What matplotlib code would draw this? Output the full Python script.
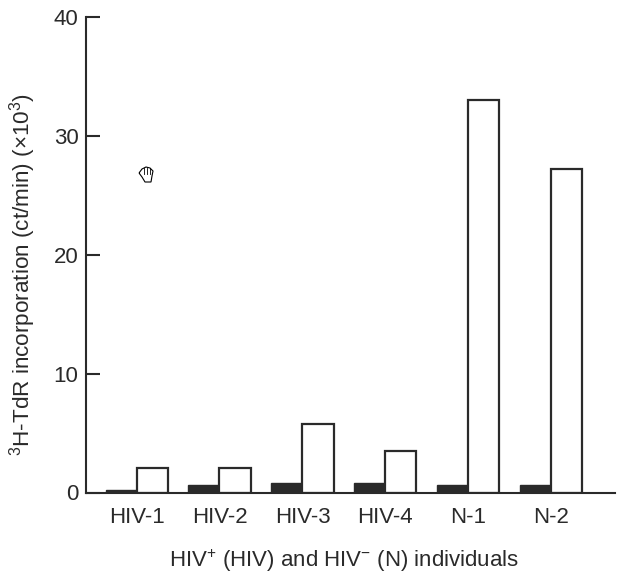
import matplotlib
matplotlib.use("Agg")
import matplotlib.pyplot as plt
import numpy as np
from matplotlib.path import Path
from matplotlib.patches import PathPatch

plt.rcParams['font.family'] = ['Liberation Sans', 'DejaVu Sans']
plt.rcParams['mathtext.fontset'] = 'custom'
plt.rcParams['mathtext.rm'] = 'Liberation Sans'
plt.rcParams['mathtext.default'] = 'rm'

# --- Datos ---
individuals = ['HIV-1', 'HIV-2', 'HIV-3', 'HIV-4', 'N-1', 'N-2']
black_values = [0.2, 0.6, 0.8, 0.8, 0.6, 0.6]
white_values = [2.1, 2.1, 5.8, 3.5, 33.0, 27.2]
y_ticks = [0, 10, 20, 30, 40]

INK = '#2a2a2a'
W, H = 622, 580

fig = plt.figure(figsize=(W / 100, H / 100), dpi=100)
ax = fig.add_axes([86 / W, 1 - 492.5 / H, (615 - 86) / W, (492.5 - 17) / H])

x = np.arange(len(individuals))
bar_w = 0.38
ax.bar(x - bar_w / 2, black_values, bar_w, color=INK, edgecolor=INK, linewidth=1)
ax.bar(x + bar_w / 2 - 0.005, white_values, bar_w, color='white', edgecolor=INK, linewidth=1.6)

ax.set_xlim(-0.616, 5.773)
ax.set_ylim(0, 40)
ax.set_yticks(y_ticks)
ax.set_xticks(x)
ax.set_xticklabels(individuals)

ax.spines['top'].set_visible(False)
ax.spines['right'].set_visible(False)
for side in ['left', 'bottom']:
    ax.spines[side].set_linewidth(1.5)
    ax.spines[side].set_color(INK)

ax.tick_params(axis='y', direction='in', length=10, width=1.5, color=INK,
               labelsize=16, labelcolor=INK, pad=5.5)
ax.tick_params(axis='x', length=0, labelsize=16, labelcolor=INK, pad=10.5)

fig.text(344 / W, 1 - 560.5 / H, r'HIV$^{+}$ (HIV) and HIV$^{-}$ (N) individuals',
         fontsize=16, color=INK, ha='center', va='center')
fig.text(23 / W, 1 - 275 / H, r'$^{3}$H-TdR incorporation (ct/min) ($\times$10$^{3}$)',
         fontsize=16.2, color=INK, ha='center', va='center', rotation=90)

# Cursor de mano que aparece en la imagen original
hand = [(139, 173), (142, 169), (146, 167), (150, 168), (153, 171), (152, 176),
        (151, 182), (145, 182), (142, 177), (139, 173)]
hand_path = Path([(px / W, 1 - py / H) for px, py in hand])
fig.add_artist(PathPatch(hand_path, transform=fig.transFigure, facecolor='white',
                         edgecolor='black', linewidth=0.8))
for px in [144, 147, 150]:
    fig.add_artist(plt.Line2D([px / W, px / W], [1 - 168 / H, 1 - 174 / H],
                              color='black', linewidth=0.6))

fig.savefig('out.png', dpi=100)
